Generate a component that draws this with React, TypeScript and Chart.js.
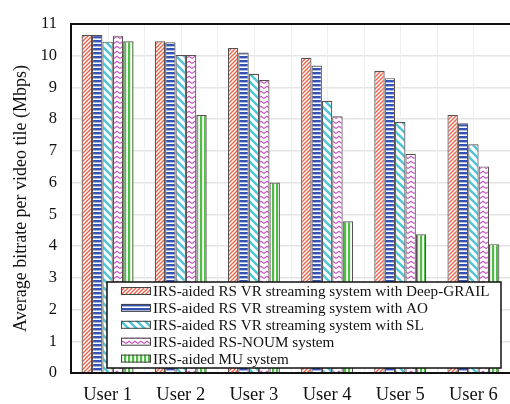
import React, { useEffect, useRef } from "react";
import { Chart, registerables } from "chart.js";

Chart.register(...registerables);

const categories = ["User 1", "User 2", "User 3", "User 4", "User 5", "User 6"];
const seriesLabels = [
  "IRS-aided RS VR streaming system with Deep-GRAIL",
  "IRS-aided RS VR streaming system with AO",
  "IRS-aided RS VR streaming system with SL",
  "IRS-aided RS-NOUM system",
  "IRS-aided MU system",
];
const deepGrail = [10.66, 10.45, 10.24, 9.93, 9.52, 8.13];
const ao = [10.65, 10.42, 10.1, 9.69, 9.29, 7.87];
const sl = [10.44, 10.02, 9.43, 8.58, 7.91, 7.21];
const noum = [10.63, 10.02, 9.23, 8.09, 6.9, 6.51];
const mu = [10.45, 8.13, 6.0, 4.78, 4.37, 4.06];
const yTicks = [0, 1, 2, 3, 4, 5, 6, 7, 8, 9, 10, 11];
const yTitle = "Average bitrate per video tile (Mbps)";

const FONT = "'Liberation Serif', 'DejaVu Serif', serif";

function makePattern(kind: string): CanvasPattern | string {
  const c = document.createElement("canvas");
  const ctx = c.getContext("2d")!;
  if (kind === "dg") {
    c.width = 4; c.height = 4;
    ctx.fillStyle = "#ffffff"; ctx.fillRect(0, 0, 4, 4);
    ctx.strokeStyle = "#ec6248"; ctx.lineWidth = 1.4;
    ctx.beginPath();
    ctx.moveTo(-1, 5); ctx.lineTo(5, -1);
    ctx.moveTo(-1, 1); ctx.lineTo(1, -1);
    ctx.moveTo(3, 5); ctx.lineTo(5, 3);
    ctx.stroke();
  } else if (kind === "ao") {
    c.width = 4; c.height = 4;
    ctx.fillStyle = "#ffffff"; ctx.fillRect(0, 0, 4, 4);
    ctx.fillStyle = "#3552b5"; ctx.fillRect(0, 0, 4, 2.4);
  } else if (kind === "sl") {
    c.width = 8; c.height = 8;
    ctx.fillStyle = "#ffffff"; ctx.fillRect(0, 0, 8, 8);
    ctx.strokeStyle = "#52c6d8"; ctx.lineWidth = 2.6;
    ctx.beginPath();
    ctx.moveTo(-1, -1); ctx.lineTo(9, 9);
    ctx.moveTo(-5, 3); ctx.lineTo(5, 13);
    ctx.moveTo(3, -5); ctx.lineTo(13, 5);
    ctx.stroke();
  } else if (kind === "noum") {
    c.width = 6; c.height = 5;
    ctx.fillStyle = "#ffffff"; ctx.fillRect(0, 0, 6, 5);
    ctx.strokeStyle = "#c458c4"; ctx.lineWidth = 1.1;
    ctx.beginPath();
    ctx.moveTo(0, 3.5); ctx.lineTo(3, 1.2); ctx.lineTo(6, 3.5);
    ctx.stroke();
  } else {
    c.width = 4; c.height = 4;
    ctx.fillStyle = "#ffffff"; ctx.fillRect(0, 0, 4, 4);
    ctx.fillStyle = "#52bb48"; ctx.fillRect(0, 0, 2.2, 4);
  }
  return ctx.createPattern(c, "repeat") || "#999";
}

const framePlugin = {
  id: "frame",
  beforeDatasetsDraw(chart: any) {
    const { ctx, chartArea } = chart;
    const xs = chart.scales.x;
    const n = categories.length;
    const step = (chartArea.right - chartArea.left) / n;
    ctx.save();
    ctx.strokeStyle = "#eeeeee";
    ctx.lineWidth = 1;
    for (let k = 1; k < n * 2; k++) {
      const x = Math.round(xs.left + (k * step) / 2) + 0.5;
      ctx.beginPath();
      ctx.moveTo(x, chartArea.top);
      ctx.lineTo(x, chartArea.bottom);
      ctx.stroke();
    }
    ctx.restore();
  },
  afterDatasetsDraw(chart: any) {
    const { ctx, chartArea } = chart;
    ctx.save();
    ctx.strokeStyle = "#111111";
    ctx.lineWidth = 2;
    ctx.beginPath();
    ctx.moveTo(chartArea.right + 2, chartArea.top);
    ctx.lineTo(chartArea.left, chartArea.top);
    ctx.lineTo(chartArea.left, chartArea.bottom);
    ctx.lineTo(chartArea.right + 2, chartArea.bottom);
    ctx.stroke();

    // legend box
    const lx = 107, ly = 282, lw = 394, lh = 86;
    ctx.fillStyle = "#ffffff";
    ctx.fillRect(lx, ly, lw, lh);
    ctx.strokeStyle = "#111111";
    ctx.lineWidth = 1.5;
    ctx.strokeRect(lx, ly, lw, lh);
    ctx.font = `15.2px ${FONT}`;
    ctx.textBaseline = "middle";
    chart.data.datasets.forEach((ds: any, i: number) => {
      const cy = ly + 9 + i * 16.9;
      ctx.fillStyle = ds.backgroundColor;
      ctx.fillRect(121, cy - 4, 30, 8);
      ctx.strokeStyle = "#444444";
      ctx.lineWidth = 1;
      ctx.strokeRect(121.5, cy - 3.5, 29, 7);
      ctx.fillStyle = "#111111";
      ctx.fillText(ds.label, 153, cy + 1);
    });
    ctx.restore();
  },
};

export default function App() {
  const ref = useRef<HTMLCanvasElement>(null);
  useEffect(() => {
    const patterns = ["dg", "ao", "sl", "noum", "mu"].map(makePattern);
    const series = [deepGrail, ao, sl, noum, mu];
    const chart = new Chart(ref.current!, {
      type: "bar",
      data: {
        labels: categories,
        datasets: series.map((d, i) => ({
          label: seriesLabels[i],
          data: d,
          backgroundColor: patterns[i] as any,
          borderColor: "#5a5050",
          borderWidth: 1.2,
          barPercentage: 1,
          categoryPercentage: 0.71,
        })),
      },
      options: {
        responsive: false,
        animation: false,
        layout: { padding: { top: 5, right: -2, bottom: 0, left: 0 } },
        plugins: { legend: { display: false }, tooltip: { enabled: false } },
        scales: {
          x: {
            grid: { display: false },
            border: { display: false },
            ticks: { color: "#111", font: { family: FONT, size: 18.5 }, padding: 3 },
            afterFit: (s: any) => { s.height = 31; },
          },
          y: {
            min: 0,
            max: 11,
            afterBuildTicks: (s: any) => { s.ticks = yTicks.map((v) => ({ value: v })); },
            grid: { color: "#e4e4e4", lineWidth: 1.5, drawTicks: false },
            border: { display: false },
            ticks: { color: "#111", font: { family: FONT, size: 16.5 }, padding: 14 },
            title: { display: true, text: yTitle, color: "#111", font: { family: FONT, size: 18 }, padding: { top: 10, bottom: 0 } },
            afterFit: (s: any) => { s.width = 71; },
          },
        },
      },
      plugins: [framePlugin],
    });
    return () => chart.destroy();
  }, []);
  return (
    <div style={{ position: "absolute", left: 0, top: 0, width: 510, height: 404, background: "#fff" }}>
      <canvas ref={ref} width={510} height={404} style={{ width: 510, height: 404 }} />
    </div>
  );
}
